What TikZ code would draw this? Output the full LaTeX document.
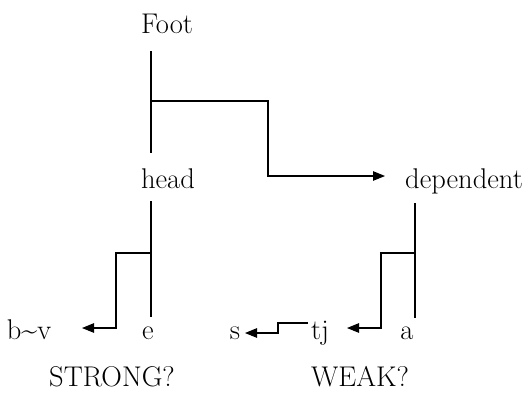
\documentclass[tikz,border=0pt]{standalone}
\usetikzlibrary{arrows.meta}
\begin{document}
\begin{tikzpicture}[x=1pt,y=-1pt,
  lbl/.style={anchor=base,inner sep=0pt,font=\fontsize{28.5}{33}\selectfont},
  ln/.style={line width=1.1pt},
  arr/.style={ln,-{Triangle[length=12pt,width=9.5pt]}}]
\useasboundingbox (0,0) rectangle (531,392);
% labels
\node[lbl] (Foot) at (167,33) {Foot};
\node[lbl] (head) at (168,188) {head};
\node[lbl] (dependent) at (464,188) {dependent};
\node[lbl] (bv) at (29,339) {b\char`~v};
\node[lbl] (e) at (148,339) {e};
\node[lbl] (s) at (235,339) {s};
\node[lbl] (tj) at (320,339) {tj};
\node[lbl] (a) at (407,339) {a};
\node[lbl] (strong) at (112,386) {STRONG?};
\node[lbl] (weak) at (360,386) {WEAK?};
% connector points
\coordinate (ft) at (151,51);
\coordinate (fb) at (151,153);
\coordinate (fm) at (151,101);
\coordinate (dtip) at (385,176);
\coordinate (ht) at (151,201);
\coordinate (hb) at (151,317);
\coordinate (hm) at (151,253);
\coordinate (bvtip) at (82,328);
\coordinate (dt) at (415,203);
\coordinate (db) at (415,318);
\coordinate (dm) at (415,253);
\coordinate (tjtip) at (347,328);
\coordinate (tjs) at (308,323);
\coordinate (stip) at (245,333);
% Foot
\draw[ln] (ft) -- (fb);
\draw[arr] (fm) -| (268,176) -- (dtip);
% head
\draw[ln] (ht) -- (hb);
\draw[arr] (hm) -| (116,328) -- (bvtip);
% dependent
\draw[ln] (dt) -- (db);
\draw[arr] (dm) -| (381,328) -- (tjtip);
% tj -> s
\draw[arr] (tjs) -| (278,333) -- (stip);
\end{tikzpicture}
\end{document}
